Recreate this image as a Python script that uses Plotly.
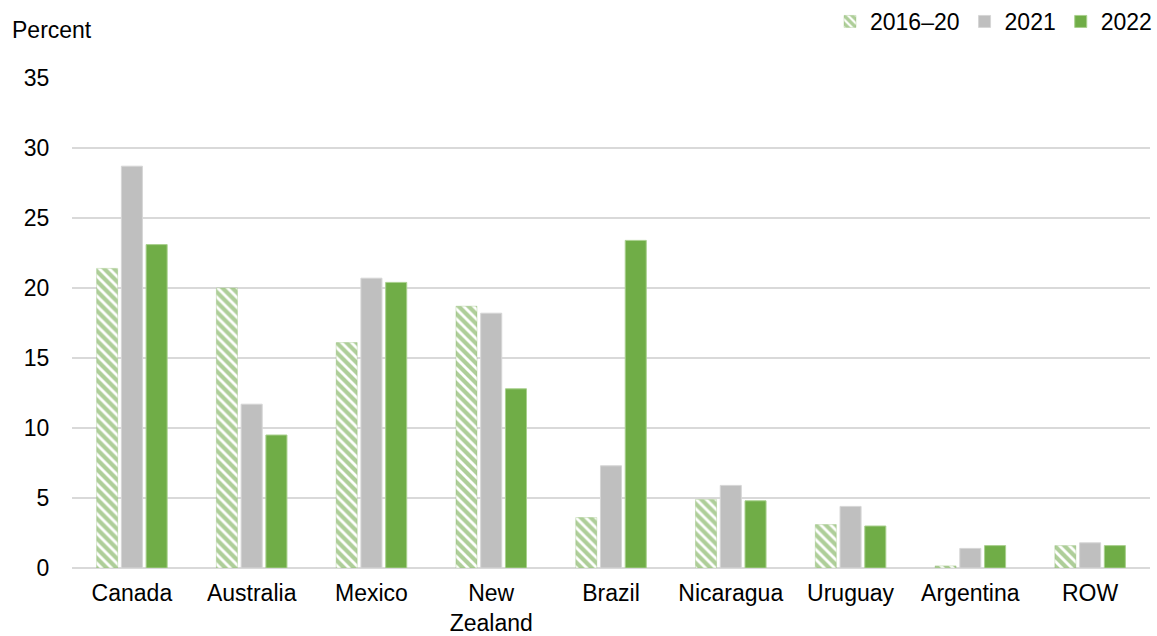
import plotly.graph_objects as go

categories = ["Canada", "Australia", "Mexico", "New<br>Zealand", "Brazil",
              "Nicaragua", "Uruguay", "Argentina", "ROW"]
share_2016_20 = [21.4, 20.0, 16.1, 18.7, 3.6, 4.9, 3.1, 0.15, 1.6]
share_2021 = [28.7, 11.7, 20.7, 18.2, 7.3, 5.9, 4.4, 1.4, 1.8]
share_2022 = [23.1, 9.5, 20.4, 12.8, 23.4, 4.8, 3.0, 1.6, 1.6]

GREEN = "#70AD47"
STRIPE = "#5E9E33"
GRAY = "#BFBFBF"
FONT = "Liberation Sans, Arial, sans-serif"
FS = 23

fig = go.Figure()
fig.add_trace(go.Bar(
    x=categories, y=share_2016_20, name="2016–20",
    marker=dict(color="white",
                line=dict(color="rgba(112,173,71,0.25)", width=1),
                pattern=dict(shape="\\", fgcolor=STRIPE, bgcolor="white",
                             size=7, solidity=0.6, fillmode="overlay")),
))
fig.add_trace(go.Bar(
    x=categories, y=share_2021, name="2021",
    marker=dict(color=GRAY, line=dict(color="#D6D6D6", width=1)),
))
fig.add_trace(go.Bar(
    x=categories, y=share_2022, name="2022",
    marker=dict(color=GREEN, line=dict(color="#A9D08E", width=1)),
))

fig.update_layout(
    width=1157, height=636,
    margin=dict(l=72, r=7, t=78, b=68),
    paper_bgcolor="white", plot_bgcolor="white",
    font=dict(family=FONT, size=FS, color="black"),
    barmode="group", bargap=0.38, bargroupgap=0.15,
    showlegend=True,
    legend=dict(orientation="h", x=1.012, xanchor="right", y=1.0,
                yref="container", yanchor="top",
                font=dict(size=FS), traceorder="normal",
                bgcolor="rgba(0,0,0,0)"),
    xaxis=dict(showgrid=False, showline=False, ticks="outside",
               ticklen=4, tickcolor="rgba(0,0,0,0)",
               tickfont=dict(size=FS), automargin=False),
    yaxis=dict(range=[0, 35], dtick=5, showgrid=True, gridcolor="#D9D9D9",
               gridwidth=2, zeroline=True, zerolinecolor="#D9D9D9",
               zerolinewidth=2, showline=False, ticks="outside",
               ticklen=17, tickcolor="rgba(0,0,0,0)",
               tickfont=dict(size=FS), automargin=False),
    annotations=[dict(text="Percent", x=-62 / 1078, y=1 + 48 / 490,
                      xref="paper", yref="paper", xanchor="left",
                      yanchor="middle", showarrow=False,
                      font=dict(size=FS))],
)

fig.write_html("out.html")
